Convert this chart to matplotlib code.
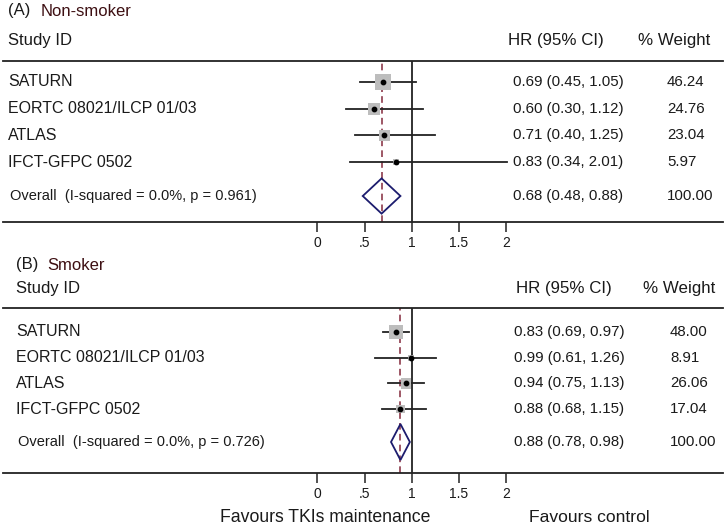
import matplotlib
matplotlib.use("Agg")
import matplotlib.pyplot as plt
from matplotlib.transforms import blended_transform_factory

plt.rcParams['font.family'] = ['Liberation Sans', 'DejaVu Sans']

studies = ["SATURN", "EORTC 08021/ILCP 01/03", "ATLAS", "IFCT-GFPC 0502"]

# Panel A: Non-smoker
a_hr = [0.69, 0.60, 0.71, 0.83]
a_lo = [0.45, 0.30, 0.40, 0.34]
a_hi = [1.05, 1.12, 1.25, 2.01]
a_w = [46.24, 24.76, 23.04, 5.97]
a_overall = (0.68, 0.48, 0.88)
a_het = "Overall  (I-squared = 0.0%, p = 0.961)"

# Panel B: Smoker
b_hr = [0.83, 0.99, 0.94, 0.88]
b_lo = [0.69, 0.61, 0.75, 0.68]
b_hi = [0.97, 1.26, 1.13, 1.15]
b_w = [48.00, 8.91, 26.06, 17.04]
b_overall = (0.88, 0.78, 0.98)
b_het = "Overall  (I-squared = 0.0%, p = 0.726)"

xticks = [0, 0.5, 1, 1.5, 2]
xticklabels = ["0", ".5", "1", "1.5", "2"]

W, H = 728, 527
fig = plt.figure(figsize=(W / 100, H / 100), dpi=100)

TXT = "#1a1a1a"
MAROON = "#3d0f12"
DASH = "#8e3b4c"
NAVY = "#1c1c6e"
GRAY = "#bdbdbd"

X0PX, UNIT = 317.5, 94.25
LPX, RPX = 3, 723


def panel(top, bot, hr, lo, hi, w, overall, het, letter, name,
          title_y, header_y, row0, spacing, ov_off, label_x, name_dx, sq_scale, dia_h,
          hr_x, wt_x, hdr_hr_x, hdr_wt_x):
    ax = fig.add_axes([LPX / W, 1 - bot / H, (RPX - LPX) / W, (bot - top) / H])
    ax.set_xlim((LPX - X0PX) / UNIT, (RPX - X0PX) / UNIT)
    ymin = (top - row0) / spacing
    ymax = (bot - row0) / spacing
    ax.set_ylim(ymax, ymin)
    ax.patch.set_alpha(0)
    for s in ["left", "right"]:
        ax.spines[s].set_visible(False)
    for s in ["top", "bottom"]:
        ax.spines[s].set_linewidth(1.3)
        ax.spines[s].set_color("#222222")
    ax.set_yticks([])
    ax.set_xticks(xticks)
    ax.set_xticklabels(xticklabels)
    ax.tick_params(axis="x", direction="out", length=7, width=1.1,
                   labelsize=10, pad=3, colors="#222222", labelcolor=TXT)

    rows = list(range(len(hr)))
    ov_y = rows[-1] + ov_off
    ax.axvline(1, color="#222222", lw=1.3, zorder=1)
    ax.axvline(overall[0], color=DASH, lw=1.2, ls=(0, (4, 2.5)), zorder=1)
    for i in rows:
        ax.plot([lo[i], hi[i]], [i, i], color="#222222", lw=1.3, zorder=2)
    sizes = [(sq_scale * (wi ** 0.5) * 0.72) ** 2 for wi in w]
    ax.scatter(hr, rows, s=sizes, marker="s", color=GRAY, edgecolors="none", zorder=3)
    ax.scatter(hr, rows, s=10, marker="o", color="black", zorder=4)
    est, l, h = overall
    ax.fill([l, est, h, est, l], [ov_y, ov_y - dia_h, ov_y, ov_y + dia_h, ov_y],
            facecolor="none", edgecolor=NAVY, lw=1.3, zorder=4)

    tr = blended_transform_factory(fig.transFigure, ax.transData)
    for i, s in enumerate(studies):
        ax.text(label_x / W, i, s, transform=tr, ha="left", va="center",
                fontsize=11.5, color=TXT)
        ax.text(hr_x / W, i, f"{hr[i]:.2f} ({lo[i]:.2f}, {hi[i]:.2f})", transform=tr,
                ha="left", va="center", fontsize=10.8, color=TXT)
        ax.text(wt_x / W, i, f"{w[i]:.2f}", transform=tr, ha="left", va="center",
                fontsize=10.8, color=TXT)
    ax.text((label_x + 2) / W, ov_y, het, transform=tr, ha="left", va="center",
            fontsize=10.5, color=TXT)
    ax.text(hr_x / W, ov_y, f"{est:.2f} ({l:.2f}, {h:.2f})", transform=tr,
            ha="left", va="center", fontsize=10.8, color=TXT)
    ax.text(wt_x / W, ov_y, "100.00", transform=tr, ha="left", va="center",
            fontsize=10.8, color=TXT)

    fig.text(label_x / W, 1 - title_y / H, f"({letter})", ha="left", va="center",
             fontsize=12, color=TXT)
    fig.text((label_x + name_dx) / W, 1 - title_y / H, name, ha="left", va="center",
             fontsize=12, color=MAROON)
    fig.text(label_x / W, 1 - header_y / H, "Study ID", ha="left", va="center",
             fontsize=12, color=TXT)
    fig.text(hdr_hr_x / W, 1 - header_y / H, "HR (95% CI)", ha="left", va="center",
             fontsize=12.2, color=TXT)
    fig.text(hdr_wt_x / W, 1 - header_y / H, "% Weight", ha="left", va="center",
             fontsize=12.2, color=TXT)
    return ax


panel(61, 222, a_hr, a_lo, a_hi, a_w, a_overall, a_het, "A", "Non-smoker",
      title_y=11, header_y=40, row0=82, spacing=26.7, ov_off=1.27, label_x=8, name_dx=33,
      sq_scale=16 / 46.24 ** 0.5, dia_h=0.66, hr_x=513, wt_x=667,
      hdr_hr_x=508, hdr_wt_x=638)

panel(308, 473, b_hr, b_lo, b_hi, b_w, b_overall, b_het, "B", "Smoker",
      title_y=265, header_y=289, row0=332, spacing=25.7, ov_off=1.28, label_x=16, name_dx=31,
      sq_scale=14.2 / 48 ** 0.5, dia_h=0.70, hr_x=514, wt_x=670,
      hdr_hr_x=516, hdr_wt_x=643)

fig.text(325 / W, 1 - 517 / H, "Favours TKIs maintenance", ha="center", va="center",
         fontsize=12.7, color=TXT)
fig.text(589 / W, 1 - 517 / H, "Favours control", ha="center", va="center",
         fontsize=12.6, color=TXT)

fig.savefig("out.png", dpi=100, facecolor="white")
